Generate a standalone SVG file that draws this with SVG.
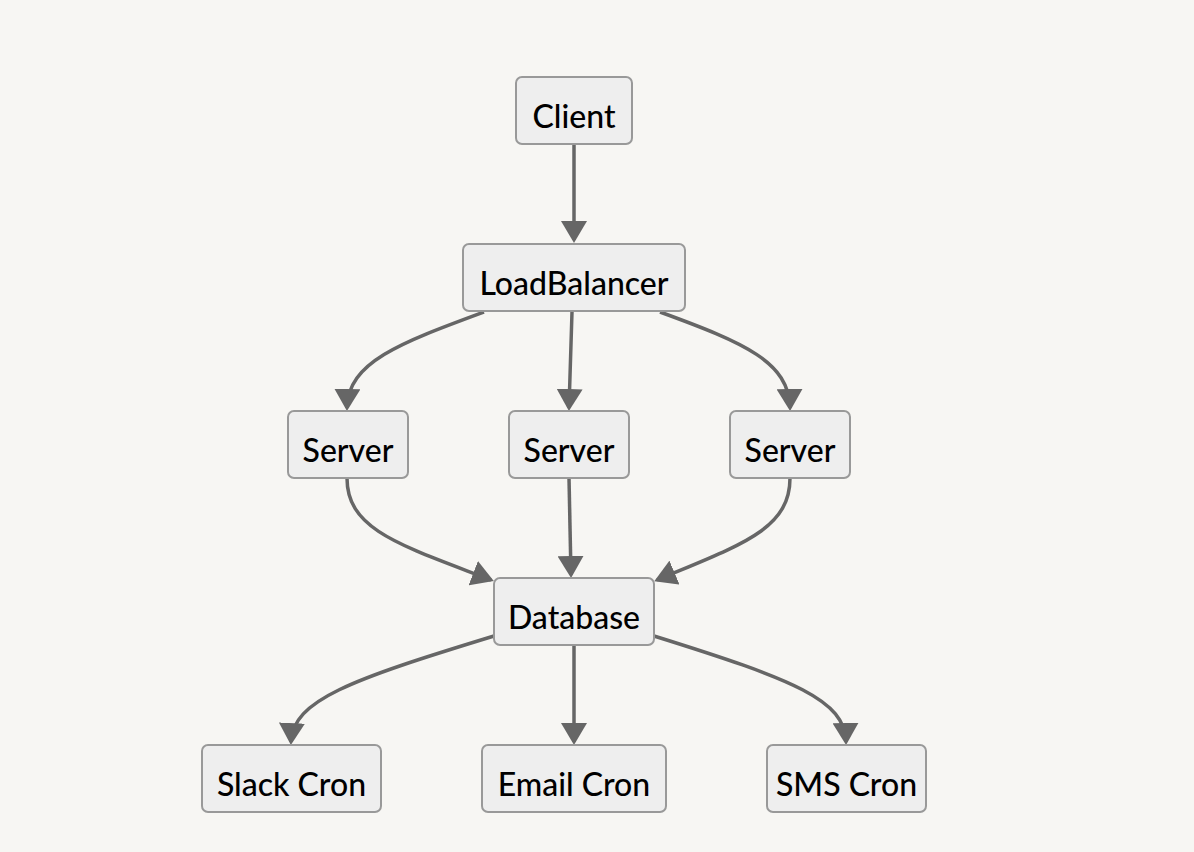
<svg xmlns="http://www.w3.org/2000/svg" width="1194" height="852" viewBox="0 0 1194 852">
<style>
.node rect{fill:#eeeeee;stroke:#999999;stroke-width:2}
.node text{font-family:Lato,"Open Sans",sans-serif;font-size:32px;font-weight:500;fill:#000;text-anchor:middle}
.edge{fill:none;stroke:#666666;stroke-width:3.5}
</style>
<defs>
<marker id="arrow" markerUnits="userSpaceOnUse" viewBox="0 0 22 26" markerWidth="22" markerHeight="26" refX="19" refY="13" orient="auto">
<path d="M0,0 L22,13 L0,26 z" fill="#666666"/>
</marker>
</defs>
<rect width="1194" height="852" fill="#f7f6f3"/>
<g id="connectors">
<path class="edge" marker-end="url(#arrow)" d="M574,144 L574,240"/>
<path class="edge" marker-end="url(#arrow)" d="M484,312 C400,343 348,362 347,408"/>
<path class="edge" marker-end="url(#arrow)" d="M572,312 L569,408"/>
<path class="edge" marker-end="url(#arrow)" d="M660,312 C745,343 789,362 790,408"/>
<path class="edge" marker-end="url(#arrow)" d="M347,478 C347,530 400,545 491,580"/>
<path class="edge" marker-end="url(#arrow)" d="M569,478 L571,575"/>
<path class="edge" marker-end="url(#arrow)" d="M790,478 C790,530 740,545 657,580"/>
<path class="edge" marker-end="url(#arrow)" d="M494,636 C350,680 293,700 291,742"/>
<path class="edge" marker-end="url(#arrow)" d="M574,645 L574,742"/>
<path class="edge" marker-end="url(#arrow)" d="M654,636 C795,680 845,700 846,742"/>
</g>
<g id="client" class="node"><rect x="516" y="77" width="116" height="67" rx="6"/><text x="574" y="128">Client</text></g>
<g id="loadbalancer" class="node"><rect x="463" y="244" width="222" height="67" rx="6"/><text x="574" y="295">LoadBalancer</text></g>
<g id="server1" class="node"><rect x="288" y="411" width="120" height="67" rx="6"/><text x="348" y="462">Server</text></g>
<g id="server2" class="node"><rect x="509" y="411" width="120" height="67" rx="6"/><text x="569" y="462">Server</text></g>
<g id="server3" class="node"><rect x="730" y="411" width="120" height="67" rx="6"/><text x="790" y="462">Server</text></g>
<g id="database" class="node"><rect x="494" y="578" width="160" height="67" rx="6"/><text x="574" y="629">Database</text></g>
<g id="slackcron" class="node"><rect x="202" y="745" width="179" height="67" rx="6"/><text x="291.5" y="796">Slack Cron</text></g>
<g id="emailcron" class="node"><rect x="482" y="745" width="184" height="67" rx="6"/><text x="574" y="796">Email Cron</text></g>
<g id="smscron" class="node"><rect x="767" y="745" width="159" height="67" rx="6"/><text x="846.5" y="796">SMS Cron</text></g>
</svg>
